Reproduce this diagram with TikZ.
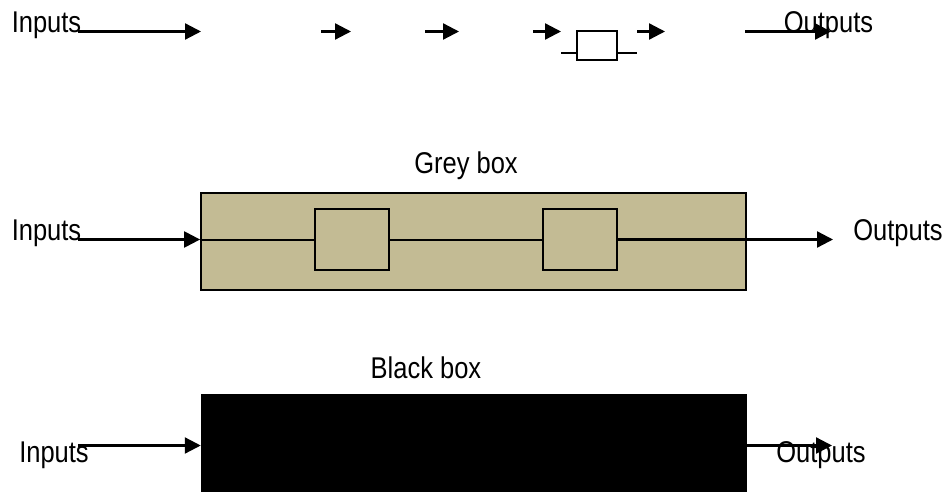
\documentclass[tikz,border=0pt]{standalone}
\usepackage{fontspec}
\setmainfont{Liberation Sans}
\usetikzlibrary{arrows.meta}
\definecolor{greybox}{RGB}{195,187,148}
\tikzset{
  x=1pt,y=-1pt,
  lbl/.style={font=\fontsize{30}{32}\selectfont,text=black,inner sep=0pt,anchor=base,xscale=.85,transform shape},
  ln/.style={draw=black,line width=2pt},
  ar/.style={draw=black,line width=2.3pt,-{Triangle[length=16pt,width=16pt]}},
  bx/.style={draw=black,line width=1.8pt,inner sep=0pt,minimum width=#1,rectangle},
}
\begin{document}
\begin{tikzpicture}
\useasboundingbox (0,0) rectangle (947,492);
% top row
\coordinate (a1s) at (78,31.5); \coordinate (a1e) at (201,31.5);
\coordinate (a2s) at (321,31.5); \coordinate (a2e) at (351,31.5);
\coordinate (a3s) at (425,31.5); \coordinate (a3e) at (459,31.5);
\coordinate (a4s) at (533,31.5); \coordinate (a4e) at (561,31.5);
\coordinate (a5s) at (637,31.5); \coordinate (a5e) at (665,31.5);
\coordinate (a6s) at (745,31.5); \coordinate (a6e) at (831,31.5);
\draw[ar] (a1s) -- (a1e);
\draw[ar] (a2s) -- (a2e);
\draw[ar] (a3s) -- (a3e);
\draw[ar] (a4s) -- (a4e);
\draw[ar] (a5s) -- (a5e);
\draw[ar] (a6s) -- (a6e);
\node[lbl] (in1) at (46.5,33) {Inputs};
\node[lbl] (out1) at (828.5,33) {Outputs};
\node[bx=40pt,minimum height=29pt,fill=white] (tb) at (597,45.5) {};
\coordinate (tl) at (561,53); \coordinate (tr) at (637,53);
\draw[ln] (tl) -- (tl -| tb.west);
\draw[ln] (tb.east |- tr) -- (tr);
% grey box
\node[lbl] (ggrey) at (466,173) {Grey box};
\node[bx=545pt,minimum height=97pt,fill=greybox] (grey) at (473.5,241.5) {};
\node[bx=74pt,minimum height=61pt,fill=greybox] (g1) at (352,239.5) {};
\node[bx=74pt,minimum height=61pt,fill=greybox] (g2) at (580,239.5) {};
\coordinate (g1s) at (78,239.5);
\coordinate (g2e) at (833,239.5);
\draw[ar] (g1s) -- (g1s -| grey.west);
\draw[ln] (g1s -| grey.west) -- (g1.west);
\draw[ln] (g1.east) -- (g2.west);
\draw[ar] (g2.east) -- (g2e);
\node[lbl] (in2) at (46.5,240) {Inputs};
\node[lbl] (out2) at (898,240) {Outputs};
% black box
\node[lbl] (gblack) at (426,378) {Black box};
\node[draw=black,line width=.5pt,fill=black,inner sep=0pt,minimum width=545pt,minimum height=98pt] (black) at (473.5,443) {};
\coordinate (b1s) at (78,445.5);
\coordinate (b2e) at (832,445.5);
\draw[ar] (b1s) -- (b1s -| black.west);
\draw[ar] (b2e -| black.east) -- (b2e);
\node[lbl] (in3) at (54,462) {Inputs};
\node[lbl] (out3) at (821,462) {Outputs};
\end{tikzpicture}
\end{document}
